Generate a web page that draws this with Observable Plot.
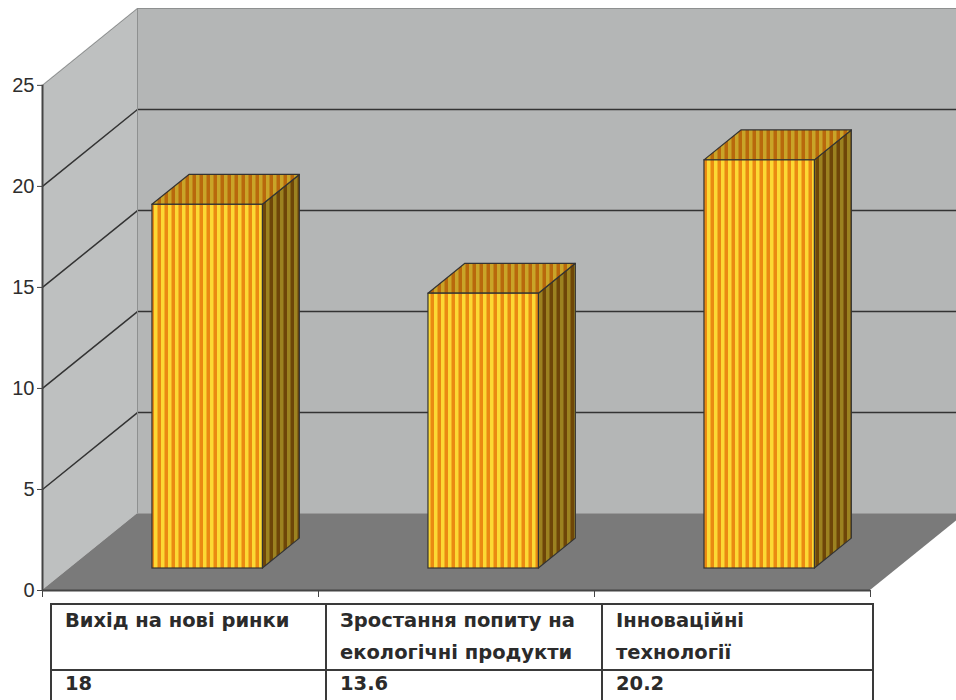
<!DOCTYPE html>
<html><head><meta charset="utf-8">
<script src="https://cdn.jsdelivr.net/npm/d3@7"></script>
<script src="https://cdn.jsdelivr.net/npm/@observablehq/plot@0.6"></script>
<style>
body{margin:0;background:#fff;}
#wrap{position:relative;width:956px;height:700px;overflow:hidden;font-family:"Liberation Sans",Arial,sans-serif;}
#tbl{position:absolute;left:50px;top:603px;width:824px;border-collapse:collapse;color:#2b2b2b;font-family:"DejaVu Sans",sans-serif;font-weight:bold;font-size:19.5px;}
#tbl td{border:2px solid #3a3a3a;padding:0 0 0 13px;vertical-align:top;white-space:nowrap;}
#tbl tr.h td{height:64px;line-height:32px;padding-top:0;}
#tbl tr.v td{height:30px;line-height:22px;padding-top:2px;}
</style></head><body>
<div id="wrap"><div id="chart"></div>
<table id="tbl"><tr class="h"></tr><tr class="v"></tr></table></div>
<script>
const categories = ["Вихід на нові ринки", "Зростання попиту на екологічні продукти", "Інноваційні технології"];
const headerLines = [["Вихід на нові ринки"], ["Зростання попиту на", "екологічні продукти"], ["Інноваційні", "технології"]];
const values = [18, 13.6, 20.2];
const yTicks = [0, 5, 10, 15, 20, 25];
const gridVals = [5, 10, 15, 20];

const DX = 95 / 276, DY = 77 / 20.24; // depth of the 3D box in scale units
const F = 0.286, B = 0.675, W = 0.2;
const yMax = 25;
const nCat = categories.length;

const bars = values.map((v, i) => ({i, v, c: i + 0.5}));
const sides = bars.flatMap(d => [
  {i: d.i, x: d.c + W + F * DX, y1: F * DY, y2: d.v + F * DY},
  {i: d.i, x: d.c + W + B * DX, y1: B * DY, y2: d.v + B * DY}
]);
const tops = bars.flatMap(d => [
  {i: d.i, y: d.v + F * DY, x1: d.c - W + F * DX, x2: d.c + W + F * DX},
  {i: d.i, y: d.v + B * DY, x1: d.c - W + B * DX, x2: d.c + W + B * DX}
]);

const chart = Plot.plot({
  width: 956, height: 600,
  marginLeft: 42, marginRight: 0, marginTop: 8, marginBottom: 10,
  style: {fontFamily: "Liberation Sans, Arial, sans-serif", color: "#2e2e2e", background: "#fff"},
  x: {domain: [0, nCat + DX], range: [42, 42 + (nCat + DX) * 276]},
  y: {domain: [0, yMax + DY], range: [590, 8]},
  marks: [
    Plot.areaY([{x: 0, y1: 0, y2: yMax}, {x: DX, y1: DY, y2: yMax + DY}], {x: "x", y1: "y1", y2: "y2", fill: "#bec0c0"}),
    Plot.rect([0], {x1: DX, x2: nCat + DX, y1: DY, y2: yMax + DY, fill: "#b4b6b6"}),
    Plot.areaX([{y: 0, x1: 0, x2: nCat}, {y: DY, x1: DX, x2: nCat + DX}], {y: "y", x1: "x1", x2: "x2", fill: "#7a7a7a"}),
    Plot.link(gridVals, {x1: 0, y1: d => d, x2: DX, y2: d => d + DY, stroke: "#333", strokeWidth: 1.5}),
    Plot.ruleY(gridVals, {y: d => d + DY, x1: DX, x2: nCat + DX, stroke: "#333", strokeWidth: 1.5}),
    Plot.link([yMax], {x1: 0, y1: d => d, x2: DX, y2: d => d + DY, stroke: "#8e9090", strokeWidth: 1}),
    Plot.ruleY([yMax + DY], {x1: DX, x2: nCat + DX, stroke: "#8e9090", strokeWidth: 1}),
    Plot.ruleX([DX], {y1: DY, y2: yMax + DY, stroke: "#8e9090", strokeWidth: 1}),
    Plot.areaY(sides, {x: "x", y1: "y1", y2: "y2", z: "i", fill: "url(#stSide)", stroke: "#333", strokeWidth: 1.2}),
    Plot.areaX(tops, {y: "y", x1: "x1", x2: "x2", z: "i", fill: "url(#stTop)", stroke: "#333", strokeWidth: 1.2}),
    Plot.rect(bars, {x1: d => d.c - W + F * DX, x2: d => d.c + W + F * DX, y1: F * DY, y2: d => d.v + F * DY, fill: "url(#stFront)", stroke: "#333", strokeWidth: 1.2}),
    Plot.ruleX([0], {y1: 0, y2: yMax, stroke: "#444", strokeWidth: 2}),
    Plot.ruleY([0], {x1: 0, x2: nCat, stroke: "#444", strokeWidth: 2}),
    Plot.axisY(yTicks, {anchor: "left", tickSize: 5, tickPadding: 3, fontSize: 20, stroke: "#444", label: null}),
    Plot.axisX(d3.range(nCat + 1), {anchor: "bottom", tickSize: 7, tickFormat: () => "", stroke: "#444", label: null})
  ]
});

const defs = d3.select(chart).insert("defs", ":first-child");
function stripes(id, a, b) {
  const p = defs.append("pattern").attr("id", id).attr("patternUnits", "userSpaceOnUse").attr("width", 7).attr("height", 10);
  p.append("rect").attr("width", 7).attr("height", 10).attr("fill", a);
  p.append("rect").attr("x", 3.5).attr("width", 3.5).attr("height", 10).attr("fill", b);
}
stripes("stFront", "#fcd934", "#ea8a12");
stripes("stSide", "#9c8220", "#6e4608");
stripes("stTop", "#c9a428", "#b8680c");

document.getElementById("chart").appendChild(chart);

const rows = document.querySelectorAll("#tbl tr");
headerLines.forEach(lines => {
  const td = document.createElement("td");
  td.innerHTML = lines.join("<br>");
  rows[0].appendChild(td);
});
values.forEach(v => {
  const td = document.createElement("td");
  td.textContent = String(v);
  rows[1].appendChild(td);
});
rows[0].children[0].style.width = "260px";
rows[0].children[1].style.width = "261px";
</script></body></html>
